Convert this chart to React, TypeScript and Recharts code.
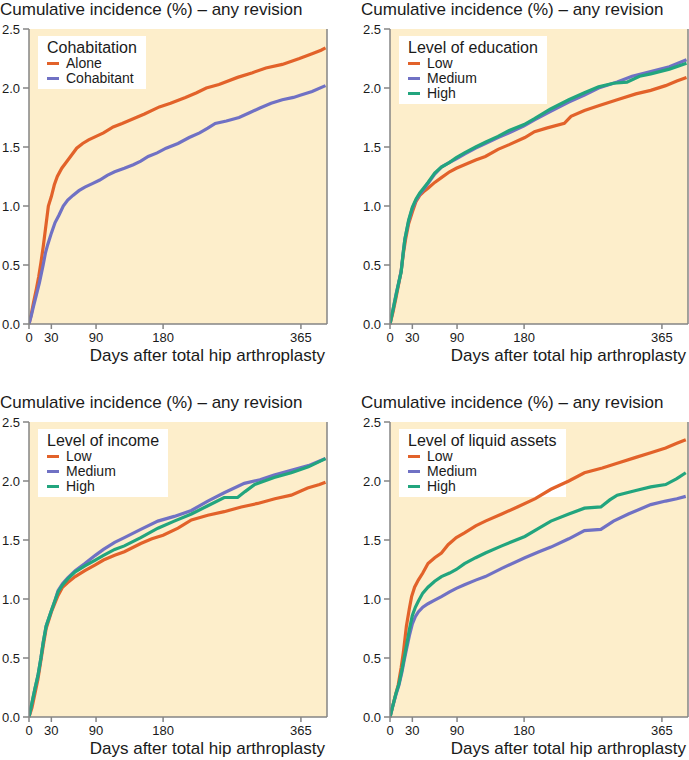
import { LineChart, Line, XAxis, YAxis, ReferenceLine } from "recharts"

const xTicks = [0, 30, 90, 180, 365]
const yTicks = [0, 0.5, 1, 1.5, 2, 2.5]
const chartTitle = "Cumulative incidence (%) – any revision"
const xLabel = "Days after total hip arthroplasty"

const ORANGE = "#e2622a"
const PURPLE = "#7071c4"
const GREEN = "#22a57e"
const BG = "#fdeecb"

// [day, cumulative incidence %]
const cohabAlone = [[0,0],[3,0.08],[6,0.18],[10,0.3],[13,0.4],[16,0.52],[19,0.65],[22,0.8],[26,1.0],[30,1.08],[34,1.18],[38,1.25],[44,1.32],[50,1.37],[57,1.43],[64,1.49],[72,1.53],[80,1.56],[90,1.59],[100,1.62],[113,1.67],[125,1.7],[140,1.74],[155,1.78],[175,1.84],[190,1.87],[210,1.92],[225,1.96],[238,2.0],[255,2.03],[280,2.09],[300,2.13],[318,2.17],[340,2.2],[363,2.25],[380,2.29],[392,2.32],[398,2.34]]
const cohabTogether = [[0,0],[3,0.07],[6,0.15],[10,0.25],[14,0.35],[19,0.5],[22,0.6],[25,0.67],[30,0.77],[35,0.86],[40,0.92],[46,1.0],[52,1.05],[59,1.09],[67,1.13],[75,1.16],[85,1.19],[95,1.22],[105,1.26],[115,1.29],[128,1.32],[140,1.35],[150,1.38],[160,1.42],[172,1.45],[184,1.49],[200,1.53],[215,1.58],[229,1.62],[240,1.66],[250,1.7],[265,1.72],[282,1.75],[296,1.79],[310,1.83],[325,1.87],[340,1.9],[355,1.92],[365,1.94],[380,1.97],[398,2.02]]

const eduLow = [[0,0],[4,0.1],[8,0.22],[12,0.35],[15,0.45],[18,0.6],[21,0.72],[25,0.85],[30,0.95],[35,1.04],[40,1.09],[45,1.12],[51,1.15],[60,1.2],[69,1.24],[80,1.29],[89,1.32],[100,1.35],[115,1.39],[128,1.42],[145,1.48],[160,1.52],[181,1.58],[194,1.63],[210,1.66],[234,1.7],[243,1.76],[261,1.81],[280,1.85],[305,1.9],[330,1.95],[350,1.98],[370,2.02],[385,2.06],[398,2.09]]
const eduMedium = [[0,0],[4,0.12],[8,0.25],[12,0.36],[15,0.45],[18,0.62],[20,0.72],[25,0.87],[30,0.98],[35,1.05],[40,1.1],[45,1.14],[51,1.19],[60,1.27],[69,1.33],[80,1.37],[89,1.4],[100,1.44],[115,1.49],[128,1.53],[145,1.58],[160,1.62],[180,1.68],[194,1.73],[215,1.8],[240,1.88],[261,1.94],[280,2.0],[305,2.05],[325,2.1],[350,2.14],[375,2.18],[398,2.24]]
const eduHigh = [[0,0],[4,0.12],[8,0.24],[12,0.36],[15,0.44],[18,0.62],[20,0.72],[25,0.88],[30,0.99],[35,1.06],[40,1.11],[45,1.15],[51,1.2],[60,1.28],[69,1.33],[80,1.37],[89,1.41],[100,1.45],[115,1.5],[128,1.54],[145,1.59],[160,1.64],[180,1.69],[194,1.74],[215,1.82],[240,1.9],[261,1.96],[280,2.01],[300,2.04],[318,2.05],[335,2.1],[350,2.12],[375,2.16],[398,2.21]]

const incLow = [[0,0],[4,0.08],[8,0.2],[12,0.32],[16,0.48],[19,0.6],[23,0.75],[30,0.89],[35,0.97],[39,1.03],[45,1.1],[52,1.14],[62,1.19],[75,1.24],[89,1.29],[100,1.33],[115,1.37],[128,1.4],[150,1.47],[165,1.51],[180,1.54],[200,1.6],[218,1.67],[240,1.71],[262,1.74],[285,1.78],[307,1.81],[330,1.85],[352,1.88],[374,1.94],[390,1.97],[398,1.99]]
const incMedium = [[0,0],[4,0.12],[8,0.24],[12,0.35],[16,0.5],[19,0.63],[23,0.77],[30,0.9],[35,0.99],[39,1.07],[45,1.13],[52,1.18],[62,1.24],[75,1.3],[89,1.37],[100,1.42],[115,1.48],[128,1.52],[150,1.59],[173,1.66],[195,1.7],[218,1.75],[240,1.83],[262,1.9],[289,1.98],[310,2.01],[329,2.05],[352,2.09],[375,2.13],[398,2.19]]
const incHigh = [[0,0],[4,0.12],[8,0.24],[12,0.35],[16,0.5],[19,0.63],[23,0.77],[30,0.9],[35,0.99],[39,1.06],[45,1.12],[52,1.17],[62,1.23],[75,1.28],[89,1.33],[100,1.37],[115,1.42],[128,1.45],[150,1.52],[173,1.6],[195,1.66],[218,1.72],[240,1.79],[262,1.86],[280,1.86],[290,1.91],[303,1.97],[329,2.03],[352,2.07],[375,2.12],[398,2.19]]

const liqLow = [[0,0],[4,0.1],[8,0.2],[11,0.27],[15,0.42],[18,0.55],[22,0.77],[26,0.92],[29,1.02],[33,1.1],[38,1.16],[44,1.22],[51,1.3],[60,1.35],[69,1.39],[78,1.46],[89,1.52],[100,1.56],[115,1.62],[128,1.66],[150,1.72],[171,1.78],[195,1.85],[216,1.93],[240,2.0],[261,2.07],[285,2.11],[305,2.15],[330,2.2],[350,2.24],[370,2.28],[385,2.32],[397,2.35]]
const liqMedium = [[0,0],[4,0.1],[8,0.19],[12,0.27],[16,0.38],[19,0.48],[22,0.57],[26,0.69],[30,0.79],[34,0.85],[38,0.89],[44,0.93],[51,0.96],[60,0.99],[69,1.02],[80,1.06],[89,1.09],[100,1.12],[115,1.16],[128,1.19],[150,1.26],[181,1.35],[200,1.4],[216,1.44],[240,1.51],[261,1.58],[283,1.59],[300,1.66],[320,1.72],[350,1.8],[370,1.83],[385,1.85],[397,1.87]]
const liqHigh = [[0,0],[4,0.1],[8,0.2],[12,0.28],[16,0.4],[19,0.5],[22,0.6],[26,0.74],[30,0.86],[34,0.93],[38,0.98],[44,1.05],[51,1.1],[60,1.15],[69,1.19],[80,1.22],[89,1.25],[100,1.3],[115,1.35],[128,1.39],[150,1.45],[181,1.53],[200,1.6],[216,1.66],[240,1.72],[261,1.77],[283,1.78],[295,1.84],[305,1.88],[330,1.92],[350,1.95],[370,1.97],[385,2.02],[397,2.07]]

type Series = { name: string; color: string; points: number[][] }

const toRows = (pts: number[][]) => pts.map(([d, v]) => ({ d, v }))

function Panel({ left, top, width, title, series }: { left: number; top: number; width: number; title: string; series: Series[] }) {
  const plotLeft = 29
  const plotTop = 29
  const plotW = 298
  const plotH = 295
  return (
    <div style={{ position: "absolute", left, top, width, height: 370, color: "#1a1a1a" }}>
      <div style={{ position: "absolute", left: 0, top: 0, fontSize: 17, lineHeight: "20px", whiteSpace: "nowrap" }}>
        {chartTitle}
      </div>
      {/* plot background and legend sit under the svg so the curves run over the legend */}
      <div style={{ position: "absolute", left: plotLeft, top: plotTop, width: plotW, height: plotH, background: BG }} />
      <div style={{ position: "absolute", left: plotLeft + 9, top: 36, background: "#fff", padding: "4px 9px 3px 9px" }}>
        <div style={{ fontSize: 16, lineHeight: "16px", whiteSpace: "nowrap" }}>{title}</div>
        {series.map((s) => (
          <div key={s.name} style={{ display: "flex", alignItems: "center", fontSize: 14, lineHeight: "15px", whiteSpace: "nowrap" }}>
            <span style={{ display: "inline-block", width: 12, height: 3.5, background: s.color, marginRight: 7 }} />
            {s.name}
          </div>
        ))}
      </div>
      <div style={{ position: "absolute", left: 0, top: 0 }}>
        <LineChart width={width} height={364} margin={{ top: plotTop, right: width - plotLeft - plotW, left: 0, bottom: 0 }}>
          <XAxis dataKey="d" type="number" domain={[0, 400]} ticks={xTicks} allowDataOverflow
            height={40} tickSize={5} tickMargin={4} stroke="#858585" strokeWidth={1.5}
            tick={{ fill: "#1a1a1a", fontSize: 13 }} />
          <YAxis type="number" domain={[0, 2.5]} ticks={yTicks} width={plotLeft} tickSize={6} tickMargin={3}
            stroke="#858585" strokeWidth={1.5} tick={{ fill: "#1a1a1a", fontSize: 13 }}
            tickFormatter={(v: number) => v.toFixed(1)} />
          <ReferenceLine x={400} stroke="#858585" strokeWidth={1.5} />
          {series.map((s) => (
            <Line key={s.name} data={toRows(s.points)} dataKey="v" type="linear" stroke={s.color}
              strokeWidth={3.2} dot={false} isAnimationActive={false} />
          ))}
        </LineChart>
      </div>
      <div style={{ position: "absolute", left: 0, width: plotLeft + plotW - 2, top: 346, textAlign: "right", fontSize: 17, lineHeight: "20px", whiteSpace: "nowrap" }}>
        {xLabel}
      </div>
    </div>
  )
}

export default function App() {
  return (
    <div style={{ position: "absolute", left: 0, top: 0, width: 689, height: 760, background: "#fff", fontFamily: "'Liberation Sans', Arial, sans-serif" }}>
      <Panel left={0} top={0} width={340} title="Cohabitation"
        series={[{ name: "Alone", color: ORANGE, points: cohabAlone }, { name: "Cohabitant", color: PURPLE, points: cohabTogether }]} />
      <Panel left={361} top={0} width={328} title="Level of education"
        series={[{ name: "Low", color: ORANGE, points: eduLow }, { name: "Medium", color: PURPLE, points: eduMedium }, { name: "High", color: GREEN, points: eduHigh }]} />
      <Panel left={0} top={393} width={340} title="Level of income"
        series={[{ name: "Low", color: ORANGE, points: incLow }, { name: "Medium", color: PURPLE, points: incMedium }, { name: "High", color: GREEN, points: incHigh }]} />
      <Panel left={361} top={393} width={328} title="Level of liquid assets"
        series={[{ name: "Low", color: ORANGE, points: liqLow }, { name: "Medium", color: PURPLE, points: liqMedium }, { name: "High", color: GREEN, points: liqHigh }]} />
    </div>
  )
}
